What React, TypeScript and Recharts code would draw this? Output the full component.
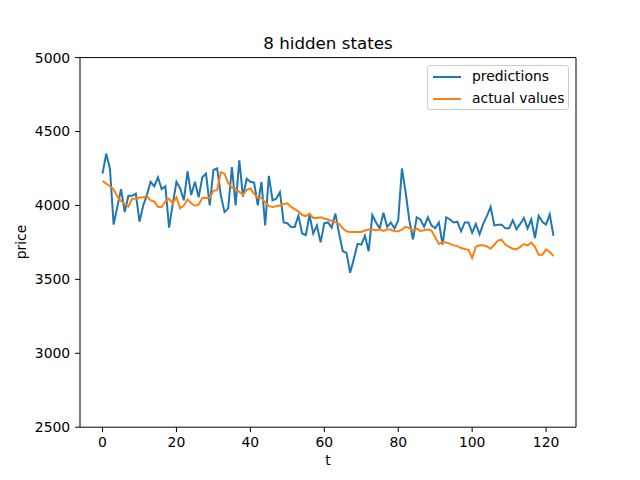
import { Line, LineChart, ReferenceArea, XAxis, YAxis } from 'recharts'

const predictions = [
  4215, 4350, 4250, 3870, 3990, 4110, 3955, 4065, 4065, 4080,
  3890, 4000, 4070, 4160, 4130, 4190, 4110, 4130, 3850, 4010,
  4160, 4115, 4035, 4230, 4070, 4160, 4055, 4190, 4215, 4000,
  4240, 4250, 4070, 3955, 3980, 4260, 4000, 4305, 4060, 4180,
  4160, 4155, 4000, 4160, 3865, 4200, 4035, 4045, 4090, 3885,
  3880, 3855, 3855, 3930, 3810, 3800, 3935, 3810, 3865, 3750,
  3880, 3885, 3850, 3945, 3810, 3690, 3680, 3545, 3640, 3740,
  3735, 3795, 3690, 3935, 3885, 3845, 3950, 3855, 3885, 3845,
  3900, 4250, 4090, 3900, 3770, 3920, 3905, 3855, 3920, 3865,
  3845, 3885, 3735, 3920, 3905, 3885, 3890, 3825, 3885, 3885,
  3815, 3875, 3805, 3875, 3930, 3990, 3865, 3870, 3870, 3845,
  3845, 3900, 3840, 3875, 3915, 3845, 3905, 3780, 3930, 3890,
  3870, 3940, 3795,
]

const actualValues = [
  4165, 4148, 4130, 4108, 4060, 4030, 4010, 3993, 4045, 4045,
  4053, 4056, 4063, 4034, 4027, 3989, 3989, 4027, 4045, 4015,
  4055, 3980, 4000, 4040, 4015, 3998, 4005, 4050, 4052, 4050,
  4100, 4103, 4225, 4215, 4150, 4120, 4110, 4092, 4072, 4105,
  4115, 4078, 4052, 4050, 4020, 3995, 3990, 3995, 4000, 4010,
  4015, 3990, 3975, 3960, 3935, 3928, 3945, 3915, 3915, 3920,
  3912, 3905, 3895, 3885, 3875, 3845, 3825, 3820, 3820, 3820,
  3820, 3830, 3837, 3837, 3833, 3837, 3828, 3837, 3837, 3825,
  3825, 3837, 3855, 3847, 3830, 3843, 3828, 3832, 3837, 3830,
  3785, 3740, 3752, 3750, 3740, 3730, 3725, 3712, 3705, 3700,
  3645, 3720, 3730, 3730, 3723, 3707, 3734, 3764, 3768, 3734,
  3720, 3707, 3703, 3720, 3739, 3730, 3748, 3720, 3667, 3667,
  3703, 3685, 3658,
]

const xTicks = [0, 20, 40, 60, 80, 100, 120]
const yTicks = [2500, 3000, 3500, 4000, 4500, 5000]
const xDomain = [-6.1, 128.1]
const yDomain = [2500, 5000]

const BLUE = '#1f77b4'
const ORANGE = '#ff7f0e'
const FONT = '"DejaVu Sans", sans-serif'

const legendItems = [
  { label: 'predictions', color: BLUE },
  { label: 'actual values', color: ORANGE },
]

export default function App() {
  const chartData = predictions.map((value, i) => ({ t: i, predictions: value, actual: actualValues[i] }))
  const tickStyle = { fill: '#000', fontSize: 13.9, fontFamily: FONT }

  return (
    <div style={{ position: 'absolute', left: 0, top: 0, width: 640, height: 480, background: '#fff', fontFamily: FONT }}>
      <LineChart width={640} height={480} data={chartData} margin={{ top: 57.6, right: 64, bottom: 22.8, left: 20 }}>
        <XAxis
          dataKey="t"
          type="number"
          domain={xDomain}
          ticks={xTicks}
          allowDataOverflow
          height={30}
          axisLine={false}
          tickSize={4.9}
          tickMargin={4.9}
          tickLine={{ stroke: '#000' }}
          tick={tickStyle}
        />
        <YAxis
          type="number"
          domain={yDomain}
          ticks={yTicks}
          allowDataOverflow
          width={60}
          axisLine={false}
          tickSize={4.9}
          tickMargin={4.9}
          tickLine={{ stroke: '#000' }}
          tick={tickStyle}
        />
        <Line type="linear" dataKey="predictions" stroke={BLUE} strokeWidth={2} dot={false} isAnimationActive={false} />
        <Line type="linear" dataKey="actual" stroke={ORANGE} strokeWidth={2} dot={false} isAnimationActive={false} />
        <ReferenceArea x1={xDomain[0]} x2={xDomain[1]} y1={yDomain[0]} y2={yDomain[1]} fill="none" stroke="#000" strokeWidth={1} />
      </LineChart>

      <div style={{ position: 'absolute', left: 80, width: 496, top: 35.2, textAlign: 'center', fontSize: 16.7, lineHeight: 1 }}>
        8 hidden states
      </div>
      <div style={{ position: 'absolute', left: 328, top: 461, transform: 'translate(-50%, -50%)', fontSize: 13.9, lineHeight: 1 }}>
        t
      </div>
      <div style={{ position: 'absolute', left: 22, top: 242.4, transform: 'translate(-50%, -50%) rotate(-90deg)', fontSize: 13.9, lineHeight: 1 }}>
        price
      </div>

      <div
        style={{
          position: 'absolute',
          left: 427,
          top: 64.5,
          width: 142,
          height: 45.5,
          boxSizing: 'border-box',
          border: '1px solid #cccccc',
          borderRadius: 3,
          background: 'rgba(255,255,255,0.8)',
        }}
      >
        {legendItems.map((item, i) => (
          <div key={item.label} style={{ position: 'absolute', left: 0, top: 11 + i * 22, width: '100%' }}>
            <div style={{ position: 'absolute', left: 5, top: -1, width: 28, height: 2, background: item.color }} />
            <div style={{ position: 'absolute', left: 44, top: 0, transform: 'translateY(-50%)', fontSize: 13.9, lineHeight: 1, whiteSpace: 'nowrap' }}>
              {item.label}
            </div>
          </div>
        ))}
      </div>
    </div>
  )
}
